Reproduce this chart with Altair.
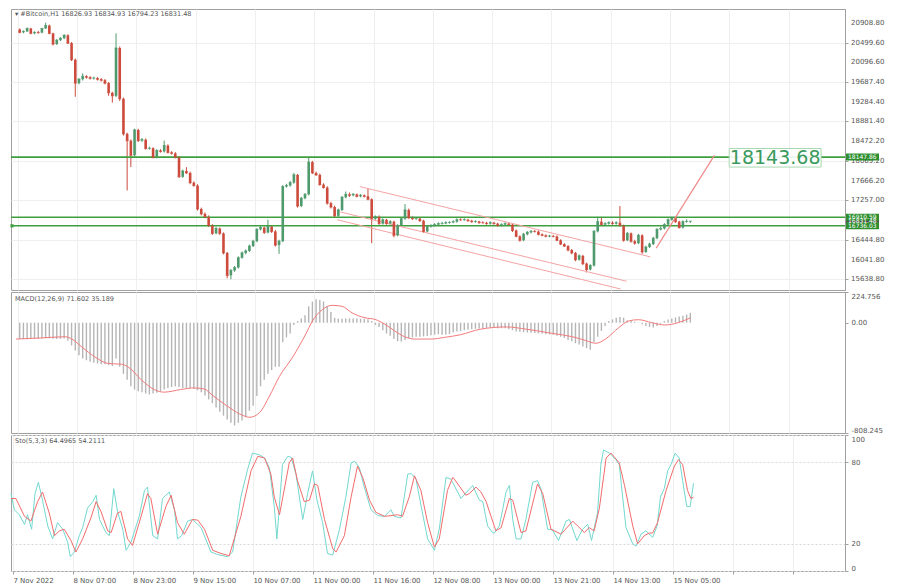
import altair as alt
import pandas as pd

# ---------------- data ----------------
first_open = 20769
close = [
    20709, 20729, 20789, 20689, 20709, 20705, 20789, 20849, 20689, 20469,
    20549, 20589, 20649, 20489, 20148, 19667, 19747, 19807, 19787, 19767,
    19770, 19747, 19727, 19667, 19467, 19406, 20388, 19346, 18625, 18485,
    18184, 18705, 18485, 18505, 18324, 18330, 18144, 18284, 18264, 18384,
    18244, 18224, 18144, 17743, 17863, 17823, 17623, 17563, 17082, 16982,
    16921, 16741, 16581, 16681, 16581, 16180, 15719, 15819, 15879, 16080,
    16180, 16220, 16320, 16420, 16661, 16701, 16601, 16721, 16621, 16340,
    16420, 17543, 17563, 17623, 17783, 17142, 17302, 17382, 18044, 17823,
    17783, 17583, 17523, 17202, 17122, 16941, 17062, 17322, 17382, 17362,
    17382, 17342, 17362, 17342, 17282, 16881, 16921, 16781, 16861, 16781,
    16821, 16541, 16741, 16881, 17062, 16901, 16881, 16885, 16841, 16621,
    16721, 16741, 16761, 16781, 16785, 16801, 16805, 16821, 16861, 16858,
    16863, 16841, 16821, 16825, 16801, 16798, 16781, 16801, 16781, 16741,
    16761, 16781, 16761, 16641, 16521, 16440, 16561, 16601, 16621, 16618,
    16561, 16541, 16521, 16525, 16518, 16440, 16360, 16320, 16240, 16180,
    16040, 16120, 15960, 15839, 15919, 16621, 16821, 16761, 16781, 16801,
    16781, 16801, 16741, 16440, 16581, 16420, 16380, 16541, 16200, 16300,
    16360, 16481, 16661, 16681, 16761, 16861, 16901, 16821, 16701, 16821,
    16826.93, 16831.48,
]
high = [
    20790, 20750, 20810, 20800, 20730, 20740, 20800, 20909, 20869, 20700,
    20570, 20610, 20670, 20669, 20510, 20170, 19770, 19867, 19830, 19810,
    19800, 19790, 19770, 19750, 19690, 19490, 20689, 20420, 19370, 18650,
    18510, 18730, 18730, 18540, 18530, 18360, 18350, 18310, 18310, 18485,
    18410, 18270, 18250, 18170, 17890, 17940, 17850, 17650, 17590, 17110,
    17010, 16950, 16770, 16710, 16700, 16600, 16200, 15850, 15910, 16110,
    16210, 16250, 16350, 16450, 16690, 16740, 16720, 16861, 16740, 16650,
    16450, 17570, 17600, 17660, 17823, 17800, 17330, 17410, 18144, 18070,
    17850, 17810, 17610, 17550, 17230, 17150, 17090, 17350, 17440, 17420,
    17410, 17400, 17390, 17380, 17503, 17300, 16950, 16950, 16890, 16880,
    16850, 16840, 16770, 16910, 17182, 17090, 16930, 16910, 16900, 16860,
    16750, 16770, 16790, 16810, 16820, 16830, 16830, 16850, 16890, 16890,
    16890, 16880, 16860, 16850, 16840, 16830, 16820, 16830, 16820, 16800,
    16790, 16810, 16800, 16780, 16660, 16540, 16590, 16630, 16650, 16650,
    16640, 16580, 16560, 16550, 16550, 16540, 16460, 16380, 16340, 16260,
    16200, 16150, 16140, 15980, 15950, 16650, 16921, 16921, 16810, 16830,
    16830, 16830, 17142, 16760, 16610, 16600, 16450, 16570, 16560, 16330,
    16390, 16510, 16690, 16720, 16790, 16890, 16921, 16930, 16840, 16850,
    16870, 16834.93,
]
low = [
    20690, 20690, 20720, 20670, 20670, 20680, 20690, 20780, 20670, 20440,
    20450, 20530, 20570, 20470, 20120, 19386, 19640, 19720, 19760, 19740,
    19740, 19720, 19700, 19640, 19406, 19266, 19380, 19300, 18590, 17463,
    17943, 18160, 18460, 18460, 18300, 18300, 18120, 18120, 18240, 18240,
    18220, 18200, 18120, 17720, 17720, 17800, 17590, 17540, 17050, 16950,
    16890, 16710, 16550, 16560, 16550, 16150, 15659, 15639, 15790, 15860,
    16060, 16150, 16200, 16300, 16400, 16640, 16570, 16580, 16590, 16310,
    16160, 16400, 17520, 17540, 17600, 17110, 17120, 17280, 17360, 17800,
    17760, 17560, 17500, 17170, 17090, 16910, 16920, 17040, 17300, 17330,
    17340, 17320, 17320, 17320, 17260, 16380, 16860, 16760, 16760, 16760,
    16760, 16500, 16520, 16720, 16860, 16880, 16860, 16860, 16820, 16590,
    16600, 16700, 16720, 16740, 16760, 16770, 16780, 16790, 16800, 16840,
    16840, 16820, 16800, 16800, 16780, 16780, 16760, 16760, 16760, 16720,
    16720, 16740, 16740, 16610, 16500, 16410, 16420, 16540, 16580, 16600,
    16540, 16520, 16500, 16500, 16500, 16420, 16340, 16300, 16210, 16150,
    16010, 16020, 15930, 15779, 15820, 15900, 16600, 16740, 16740, 16760,
    16760, 16760, 16720, 16410, 16420, 16390, 16350, 16360, 16160, 16180,
    16280, 16340, 16460, 16640, 16660, 16740, 16840, 16800, 16680, 16680,
    16800, 16794.23,
]

macd_hist = [
    -118, -120, -121, -120, -119, -118, -116, -114, -115, -118,
    -120, -118, -116, -131, -167, -203, -239, -263, -275, -287,
    -294, -299, -304, -304, -311, -318, -263, -323, -375, -418,
    -466, -490, -502, -509, -519, -526, -519, -514, -502, -490,
    -478, -471, -466, -471, -478, -478, -478, -485, -495, -509,
    -533, -562, -590, -621, -652, -681, -710, -734, -753, -734,
    -717, -693, -645, -609, -538, -466, -418, -375, -347, -323,
    -323, -143, -108, -79, -17, 12, 31, 55, 120, 155,
    172, 167, 155, 120, 79, 36, 29, 29, 31, 31,
    31, 31, 29, 29, 26, 12, -17, -31, -55, -79,
    -96, -120, -136, -139, -127, -112, -108, -103, -103, -100,
    -98, -93, -88, -84, -88, -86, -84, -72, -65, -60,
    -55, -50, -48, -45, -43, -41, -38, -38, -38, -41,
    -41, -41, -48, -55, -65, -67, -69, -72, -74, -76,
    -79, -81, -84, -86, -88, -96, -103, -112, -127, -136,
    -151, -160, -174, -186, -198, -143, -103, -60, -24, 12,
    24, 36, 41, 36, 17, 12, 7, -2, -12, -24,
    -31, -36, -24, -7, 12, 24, 31, 38, 45, 50,
    60, 71.602,
]
sig_idx = [-1.0, 5.7, 12.3, 14.1, 16.8, 20.3, 23.9, 27.4, 29.2, 32.8,
           36.3, 39.0, 43.4, 47.0, 49.7, 52.3, 55.9, 59.4, 62.1, 64.8,
           67.4, 70.1, 73.7, 77.2, 79.0, 81.7, 84.3, 87.0, 89.7, 93.2,
           95.9, 98.6, 101.2, 103.9, 106.6, 111.0, 114.6, 119.0, 124.3, 131.4,
           136.8, 143.9, 149.2, 152.8, 155.5, 158.1, 161.7, 164.3, 167.0, 170.6,
           174.1, 177.7, 181.0]
sig_val = [-120, -112, -103, -120, -179, -251, -299, -304, -323, -418,
           -490, -509, -490, -478, -485, -538, -609, -669, -693, -657,
           -538, -394, -251, -84, 12, 96, 127, 120, 72, 36,
           24, -12, -60, -103, -120, -120, -108, -88, -48, -31,
           -48, -79, -103, -131, -151, -120, -36, 12, 22, 0,
           -17, 0, 35.189]

k_idx = [-1.0, -0.1, 1.2, 2.6, 3.4, 4.5, 5.4, 6.3, 7.4, 8.8,
         10.1, 11.4, 12.8, 14.1, 14.8, 15.9, 17.2, 18.1, 19.4, 20.8,
         21.7, 22.6, 24.3, 25.2, 26.4, 27.4, 28.8, 29.7, 31.0, 33.2,
         34.6, 35.4, 36.8, 38.1, 39.4, 41.2, 42.6, 43.4, 44.5, 46.1,
         47.4, 49.7, 52.3, 54.1, 56.8, 58.1, 60.3, 62.1, 63.4, 65.2,
         66.6, 67.9, 69.2, 69.9, 71.4, 72.8, 73.7, 75.0, 76.8, 78.1,
         79.4, 80.6, 82.1, 83.4, 84.8, 86.6, 88.3, 89.7, 90.6, 91.9,
         93.2, 95.0, 96.8, 98.6, 100.3, 101.2, 103.0, 104.8, 105.7, 107.0,
         108.3, 110.1, 111.9, 113.2, 115.0,
         116.3, 119.0, 122.1, 123.9, 124.8, 126.1, 127.4, 127.9, 129.2, 130.1,
         131.0, 131.9, 132.8, 133.7, 135.0, 136.3, 138.1, 139.4, 140.3, 142.1,
         143.4, 145.0, 147.0, 147.9, 149.9, 151.4, 152.8, 153.8, 155.4, 156.3,
         157.0, 158.6, 160.3, 161.2, 162.1, 163.0, 164.8, 165.7, 167.0, 168.3,
         170.1, 171.3, 172.2, 173.2, 174.1, 175.0, 176.1, 177.2, 178.1, 179.2,
         180.1, 181.0]
k_val = [56.9, 45.0, 41.4, 34.3, 41.4, 30.7, 56.9, 65.2, 52.1, 33.1,
         23.6, 35.5, 30.7, 21.2, 10.5, 14.0, 26.0, 31.9, 46.2, 51.0,
         55.7, 37.9, 28.3, 26.0, 60.5, 43.8, 30.7, 15.2, 21.2, 40.2,
         59.3, 61.7, 26.0, 23.6, 53.3, 58.1, 45.0, 23.6, 26.0, 36.7,
         37.9, 31.9, 14.0, 12.1, 10.5, 14.0, 54.5, 74.8, 86.7, 85.5,
         83.1, 76.0, 47.4, 23.6, 78.3, 84.3, 83.6, 71.2, 37.9, 56.9,
         73.6, 52.1, 35.5, 12.9, 11.7, 30.7, 54.5, 79.5, 80.7, 76.0,
         61.7, 45.0, 40.7, 40.2, 45.0, 40.2, 39.0, 71.2, 71.7, 67.6,
         48.6, 23.6, 15.2, 30.7, 68.8,
         67.6, 53.3, 62.9, 52.1, 51.0, 33.1, 28.3, 27.9, 33.1, 45.0,
         58.1, 62.9, 37.9, 23.6, 23.6, 37.9, 65.2, 66.4, 60.5, 30.7,
         30.2, 22.4, 36.7, 37.9, 22.4, 30.7, 34.3, 22.4, 42.6, 78.3,
         89.0, 86.7, 81.9, 78.3, 54.5, 31.9, 20.0, 18.3, 27.1, 29.5,
         24.8, 33.1, 54.5, 60.5, 73.6, 78.3, 86.7, 83.1, 66.4, 47.4,
         47.4, 64.4965]
d_idx = [-1.0, 0.3, 2.6, 4.3, 6.1, 7.4, 9.2, 10.6, 11.9, 13.2,
         15.0, 16.3, 18.1, 20.3, 21.7, 23.0, 24.8, 25.7, 27.4, 28.3,
         30.1, 31.4, 33.7, 35.4, 36.3, 38.1, 40.3, 41.7, 43.4, 45.2,
         47.4, 48.8, 50.6, 52.8, 55.0, 57.2, 60.3, 63.0, 64.8, 66.6,
         68.3, 69.2, 70.6, 73.2, 74.1, 75.4, 77.2, 78.6, 79.9, 80.8,
         82.6, 84.8, 85.7, 87.9, 89.7, 91.4, 92.8, 94.6, 96.3, 98.6,
         100.3, 102.1, 103.4, 105.2, 106.6, 108.3, 110.1, 111.9, 113.2, 115.4,
         116.8,
         117.2, 120.3, 121.2, 123.0, 124.3, 125.7, 128.3, 129.7, 131.9, 132.8,
         135.0, 136.3, 139.4, 140.8, 143.0, 145.7, 148.8, 150.1, 151.9, 153.2,
         154.5, 155.9, 157.7, 159.0, 161.2, 162.6, 164.8, 166.1, 167.9, 169.2,
         170.1, 171.4, 173.7, 175.9, 177.0, 178.1, 179.4, 180.3, 181.0]
d_val = [53.3, 53.3, 40.2, 36.7, 51.0, 58.1, 42.6, 26.0, 29.5, 30.7,
         22.4, 14.0, 23.6, 39.0, 51.0, 43.8, 29.5, 28.3, 42.6, 43.8,
         23.6, 18.8, 40.2, 56.9, 53.3, 27.1, 47.4, 55.7, 35.5, 27.1,
         37.9, 37.4, 30.7, 15.2, 12.9, 11.2, 40.2, 73.6, 84.3, 83.1,
         71.2, 54.5, 41.4, 79.5, 83.1, 66.4, 51.0, 52.1, 64.0, 62.9,
         37.9, 16.4, 14.0, 26.0, 54.5, 77.1, 68.8, 52.1, 43.1, 40.2,
         40.7, 41.4, 40.2, 54.5, 70.0, 59.3, 35.5, 17.6, 23.6, 59.3,
         68.8,
         67.6, 55.7, 56.9, 61.7, 58.1, 51.0, 29.5, 31.9, 53.3, 52.1,
         28.3, 29.5, 64.0, 56.9, 30.7, 27.1, 36.7, 33.1, 28.3, 31.9,
         29.5, 46.2, 83.1, 86.7, 79.5, 62.9, 33.1, 20.0, 26.0, 27.9,
         27.9, 35.5, 59.3, 77.1, 81.9, 78.3, 59.3, 53.3, 54.2111]

levels = [18147.86, 16910.59, 16736.03]
price_ticks = [20908.80, 20499.60, 20096.60, 19687.40, 19284.40, 18881.40,
               18472.20, 18069.20, 17666.20, 17257.00, 16853.80, 16444.80,
               16041.80, 15638.80]
# labels printed on the scale (16853.80 is fully covered by the price tags)
price_labels = [20908.80, 20499.60, 20096.60, 19687.40, 19284.40, 18881.40,
                18472.20, 18069.20, 17666.20, 17257.00, 16444.80,
                16041.80, 15638.80]
# drawn in this order: the dark current-price tag sits under the two green ones
tag_price = [18147.86, 16831.48, 16910.59, 16736.03]
tag_text = ["18147.86", "16831.48", "16910.59", "16736.03"]
tag_fill = ["#2f8f2f", "#555555", "#2f8f2f", "#2f8f2f"]

chan_x1 = [91.8, 86.5, 85.7]
chan_p1 = [17542, 17021, 16861]
chan_x2 = [170.2, 163.8, 162.2]
chan_p2 = [16099, 15598, 15438]
arrow_x = [171.8, 187.5]
arrow_p = [16279, 18183]
target_text = "18143.68"
target_box = dict(x=191.5, x2=216.3, p=18324, p2=17943)
target_pos = dict(x=203.9, p=18133)

tick_pos = [-0.5, 15.5, 31.5, 47.5, 63.5, 79.5, 95.5, 111.5, 127.5, 143.5, 159.5, 175.5]
tick_lbl = ["7 Nov 2022", "8 Nov 07:00", "8 Nov 23:00", "9 Nov 15:00",
            "10 Nov 07:00", "11 Nov 00:00", "11 Nov 16:00", "12 Nov 08:00",
            "13 Nov 00:00", "13 Nov 21:00", "14 Nov 13:00", "15 Nov 05:00"]

header_main = "\u25BE #Bitcoin,H1  16826.93 16834.93 16794.23 16831.48"
header_macd = "MACD(12,26,9) 71.602 35.189"
header_sto = "Sto(5,3,3) 64.4965 54.2111"

# ---------------- styling ----------------
W = 834
H_MAIN, H_MACD, H_STO = 281, 141, 136
GREEN_C = "#4f9a6c"
RED_C = "#cc4b3c"
LEVEL_C = "#3f9f3f"
GRID_C = "#efefef"
FONT = "DejaVu Sans"

grid_pos = [-0.5 + 8 * k for k in range(28)]


def arr(vals):
    return "[" + ",".join(repr(v) if isinstance(v, str) else str(v) for v in vals) + "]"


xlabel_expr = f"{arr(tick_lbl)}[indexof({arr(tick_pos)}, datum.value)] || ''"

xs = alt.Scale(domain=[-1, 221.4], nice=False, zero=False)
ys_main = alt.Scale(domain=[15418, 21189], nice=False, zero=False)
ys_macd = alt.Scale(domain=[-808.245, 224.756], nice=False, zero=False)
ys_sto = alt.Scale(domain=[0, 100], nice=False, zero=False)

x_grid_axis = alt.Axis(values=grid_pos, grid=True, gridColor=GRID_C, labels=False,
                       ticks=False, domain=False, title=None)


def X(f="i:Q", axis=None):
    if axis is None:
        return alt.X(f, scale=xs, title=None)
    return alt.X(f, scale=xs, title=None, axis=axis)


def Y(f, scale, axis=None):
    if axis is None:
        return alt.Y(f, scale=scale, title=None)
    return alt.Y(f, scale=scale, title=None, axis=axis)


opens = [first_open] + close[:-1]
cdf = pd.DataFrame({
    "i": list(range(len(close))),
    "o": opens, "h": high, "l": low, "c": close,
})
cdf["d"] = ["up" if c >= o else "down" for o, c in zip(opens, close)]
col = alt.Color("d:N", scale=alt.Scale(domain=["up", "down"], range=[GREEN_C, RED_C]), legend=None)

price_axis = alt.Axis(orient="right", values=price_ticks, labels=False, grid=True,
                      gridColor=GRID_C, tickSize=3, domain=True)

base = alt.Chart(cdf)
wicks = base.mark_rule(strokeWidth=1).encode(
    x=X(axis=x_grid_axis), y=Y("l:Q", ys_main, price_axis), y2="h:Q", color=col)
bodies = base.mark_bar(size=2.6).encode(
    x=X(), y=Y("o:Q", ys_main), y2="c:Q", color=col)
doji = base.mark_tick(orient="horizontal", size=3, thickness=1).encode(
    x=X(), y=Y("c:Q", ys_main), color=col)

lvl = alt.Chart(pd.DataFrame({"p": levels})).mark_rule(color=LEVEL_C, strokeWidth=1.6).encode(
    y=Y("p:Q", ys_main))
lvl_mark = alt.Chart(pd.DataFrame({"p": [levels[2]]})).mark_square(
    size=10, color=LEVEL_C, opacity=1).encode(x=alt.value(1), y=Y("p:Q", ys_main))

chan = alt.Chart(pd.DataFrame({"x": chan_x1, "p": chan_p1, "x2": chan_x2, "p2": chan_p2})).mark_rule(
    color="#f5a3a3", strokeWidth=1, clip=True).encode(
    x=X("x:Q"), x2="x2:Q", y=Y("p:Q", ys_main), y2="p2:Q")

arrow = alt.Chart(pd.DataFrame({"x": [arrow_x[0]], "p": [arrow_p[0]],
                                "x2": [arrow_x[1]], "p2": [arrow_p[1]]})).mark_rule(
    color="#f08a8a", strokeWidth=1.2).encode(
    x=X("x:Q"), x2="x2:Q", y=Y("p:Q", ys_main), y2="p2:Q")

tbox = alt.Chart(pd.DataFrame([target_box])).mark_rect(
    fill="white", fillOpacity=0.9, stroke="#a8d8b0", strokeWidth=1).encode(
    x=X("x:Q"), x2="x2:Q", y=Y("p:Q", ys_main), y2="p2:Q")
ttext = alt.Chart(pd.DataFrame({"x": [target_pos["x"]], "p": [target_pos["p"]],
                                "t": [target_text]})).mark_text(
    fontSize=19, font=FONT, color="#3a9a5c", align="center", baseline="middle").encode(
    x=X("x:Q"), y=Y("p:Q", ys_main), text="t:N")

plabels = pd.DataFrame({"p": price_labels, "t": [f"{p:.2f}" for p in price_labels]})
price_lbl = alt.Chart(plabels).mark_text(fontSize=7, font=FONT, color="#555", align="left",
                                         baseline="middle").encode(
    x=alt.value(W + 6), y=Y("p:Q", ys_main), text="t:N")

tags = pd.DataFrame({"p": tag_price, "t": tag_text, "f": tag_fill})
tag_box = alt.Chart(tags).mark_rule(strokeWidth=7).encode(
    x=alt.value(W + 1), x2=alt.value(W + 34), y=Y("p:Q", ys_main),
    color=alt.Color("f:N", scale=None))
tag_txt = alt.Chart(tags).mark_text(fontSize=6, font=FONT, color="white", align="left",
                                    baseline="middle").encode(
    x=alt.value(W + 3), y=Y("p:Q", ys_main), text="t:N")

hdr_main = alt.Chart(pd.DataFrame({"t": [header_main]})).mark_text(
    fontSize=6.5, font=FONT, color="#555", align="left", baseline="middle").encode(
    x=alt.value(4), y=alt.value(5), text="t:N")

main = alt.layer(wicks, lvl, lvl_mark, chan, bodies, doji, arrow, tbox, ttext, price_lbl,
                 tag_box, tag_txt, hdr_main).properties(width=W, height=H_MAIN)

# MACD panel
mdf = pd.DataFrame({"i": list(range(len(macd_hist))), "h": macd_hist})
macd_axis = alt.Axis(orient="right", values=[224.756, 0, -808.245], grid=False,
                     labelExpr="datum.value == 0 ? '0.00' : toString(datum.value)",
                     labelFlush=True, labelOverlap=False, tickSize=3, labelPadding=3)
mbars = alt.Chart(mdf).mark_bar(size=1.4, color="#b5b5b5").encode(
    x=X(axis=x_grid_axis), y=Y("h:Q", ys_macd, macd_axis), y2=alt.datum(0))
msig = alt.Chart(pd.DataFrame({"i": sig_idx, "h": sig_val})).mark_line(
    color="#f27a7a", strokeWidth=1, interpolate="monotone").encode(
    x=X(), y=Y("h:Q", ys_macd))
hdr_macd = alt.Chart(pd.DataFrame({"t": [header_macd]})).mark_text(
    fontSize=6.5, font=FONT, color="#555", align="left", baseline="middle").encode(
    x=alt.value(4), y=alt.value(7), text="t:N")
macd = alt.layer(mbars, msig, hdr_macd).properties(width=W, height=H_MACD)

# Stochastic panel
x_axis_sto = alt.Axis(values=grid_pos, grid=True, gridColor=GRID_C, labelExpr=xlabel_expr,
                      labelAlign="left", labelOverlap=False, tickSize=3, labelPadding=2,
                      domain=False, title=None)
sto_axis = alt.Axis(orient="right", values=[0, 20, 80, 100], grid=True,
                    gridColor="#d8d8d8", gridDash=[2, 2], labelFlush=True,
                    labelOverlap=False, tickSize=3, labelPadding=3)
kline = alt.Chart(pd.DataFrame({"i": k_idx, "v": k_val})).mark_line(
    color="#72d8cf", strokeWidth=1).encode(
    x=X(axis=x_axis_sto), y=Y("v:Q", ys_sto, sto_axis))
dline = alt.Chart(pd.DataFrame({"i": d_idx, "v": d_val})).mark_line(
    color="#f26b6b", strokeWidth=1).encode(
    x=X(), y=Y("v:Q", ys_sto))
hdr_sto = alt.Chart(pd.DataFrame({"t": [header_sto]})).mark_text(
    fontSize=6.5, font=FONT, color="#555", align="left", baseline="middle").encode(
    x=alt.value(4), y=alt.value(6), text="t:N")
sto = alt.layer(kline, dline, hdr_sto).properties(width=W, height=H_STO)

chart = alt.vconcat(main, macd, sto, spacing=0).properties(
    padding={"left": 0, "top": 0, "right": 0, "bottom": 0}
).configure_view(
    stroke="#a0a0a0", strokeWidth=1
).configure_axis(
    labelFont=FONT, labelFontSize=7, labelColor="#555", tickColor="#a0a0a0",
    domainColor="#a0a0a0"
)

chart.save("out.html", embed_options={"renderer": "svg", "actions": False})
